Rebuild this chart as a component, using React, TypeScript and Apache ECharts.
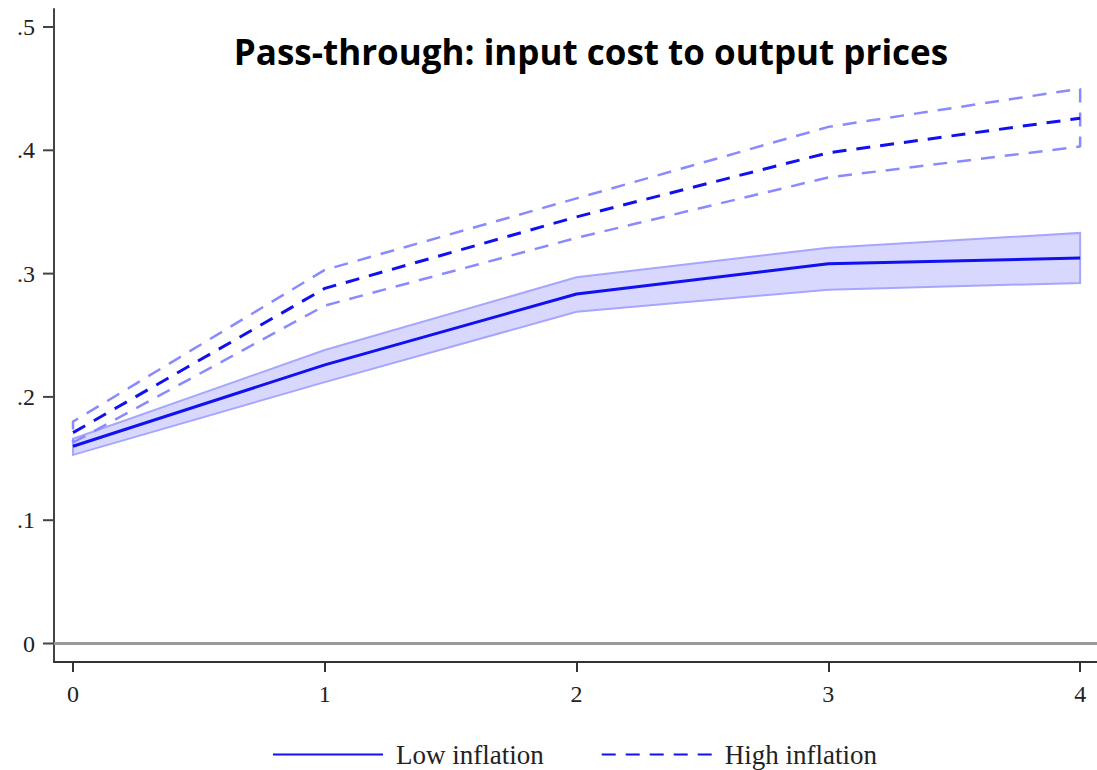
import React, { useEffect, useRef } from "react";
import * as echarts from "echarts";

const horizons = [0, 1, 2, 3, 4];
const lowInflation = [0.16, 0.226, 0.2835, 0.308, 0.3126];
const lowUpper = [0.166, 0.238, 0.297, 0.321, 0.333];
const lowLower = [0.153, 0.212, 0.269, 0.287, 0.2924];
const highInflation = [0.171, 0.288, 0.346, 0.398, 0.426];
const highUpper = [0.18, 0.303, 0.361, 0.419, 0.45];
const highLower = [0.163, 0.274, 0.329, 0.378, 0.403];
const yTicks = [0, 0.1, 0.2, 0.3, 0.4, 0.5];
const xTicks = [0, 1, 2, 3, 4];

const X_MIN = -0.0755;

const pairs = (ys: number[]) => horizons.map((x, i) => [x, ys[i]]);
const polygon = (lo: number[], hi: number[]) => {
  const pts: number[][] = [];
  horizons.forEach((x, i) => pts.push([x, lo[i]]));
  for (let i = horizons.length - 1; i >= 0; i--) pts.push([horizons[i], hi[i]]);
  pts.push([horizons[0], lo[0]]);
  return pts;
};

export default function App() {
  const ref = useRef<HTMLDivElement>(null);
  useEffect(() => {
    if (!ref.current) return;
    const chart = echarts.init(ref.current, null, { renderer: "svg" });
    const serif = "'Liberation Serif', 'DejaVu Serif', serif";
    const lowPoly = polygon(lowLower, lowUpper);
    chart.setOption({
      animation: false,
      backgroundColor: "#ffffff",
      title: {
        text: "Pass-through: input cost to output prices",
        left: 586,
        top: 29,
        textAlign: "center",
        textStyle: { fontFamily: "'Open Sans', sans-serif", fontWeight: "bold", fontSize: 35, color: "#000" },
      },
      grid: { left: 54, right: 0, top: 9, bottom: 108, containLabel: false },
      legend: {
        data: ["Low inflation", "High inflation"],
        top: 736,
        left: 267,
        itemWidth: 110,
        itemHeight: 14,
        itemGap: 57,
        itemStyle: { opacity: 0 },
        textStyle: { fontFamily: serif, fontSize: 27, color: "#222", padding: [0, 0, 0, 8] },
      },
      xAxis: {
        type: "value",
        min: X_MIN,
        max: 4.067,
        splitLine: { show: false },
        axisLine: { show: true, onZero: false, lineStyle: { color: "#333", width: 2 } },
        axisTick: { show: true, inside: false, customValues: xTicks, length: 10, lineStyle: { color: "#333", width: 2 } },
        axisLabel: { customValues: xTicks, fontFamily: serif, fontSize: 24, color: "#222", margin: 20 },
      },
      yAxis: {
        type: "value",
        min: -0.015,
        max: 0.5146,
        splitLine: { show: false },
        axisLine: { show: true, onZero: false, lineStyle: { color: "#444", width: 2 } },
        axisTick: { show: false },
        axisLabel: {
          customValues: yTicks,
          fontFamily: serif,
          fontSize: 24,
          color: "#222",
          margin: 19,
          formatter: (v: number) => (Math.abs(v) < 1e-9 ? "0" : "." + Math.round(v * 10)),
        },
      },
      series: [
        {
          name: "lowBand",
          type: "custom",
          silent: true,
          data: [0],
          renderItem: (_params: any, api: any) => ({
            type: "polygon",
            shape: { points: lowPoly.map((p) => api.coord(p)) },
            style: { fill: "rgba(60,60,255,0.2)", stroke: "#a6a6ff", lineWidth: 2 },
          }),
          z: 1,
        },
        {
          name: "zeroLine",
          type: "line",
          data: [],
          silent: true,
          markLine: {
            silent: true,
            symbol: "none",
            label: { show: false },
            lineStyle: { color: "#9a9a9a", width: 3, type: "solid" },
            data: [{ yAxis: 0 }],
          },
        },
        {
          name: "highBandEdge",
          type: "line",
          data: polygon(highLower, highUpper),
          symbol: "none",
          lineStyle: { color: "#8a8aff", width: 2.5, type: [14, 10] },
          silent: true,
        },
        {
          name: "Low inflation",
          type: "line",
          data: pairs(lowInflation),
          symbol: "none",
          itemStyle: { color: "#1010f0" },
          lineStyle: { color: "#1010f0", width: 3 },
          z: 5,
        },
        {
          name: "High inflation",
          type: "line",
          data: pairs(highInflation),
          symbol: "none",
          itemStyle: { color: "#1010f0" },
          lineStyle: { color: "#1010f0", width: 3, type: [14, 10] },
          z: 5,
        },
      ],
    });
    const tickLines = yTicks.map((v) => {
      const p = chart.convertToPixel({ gridIndex: 0 }, [X_MIN, v]) as number[];
      return {
        type: "line",
        silent: true,
        z: 10,
        shape: { x1: p[0] - 11, y1: p[1], x2: p[0], y2: p[1] },
        style: { stroke: "#444", lineWidth: 2 },
      };
    });
    chart.setOption({ graphic: tickLines });
    return () => chart.dispose();
  }, []);
  return (
    <div
      ref={ref}
      style={{ position: "fixed", left: 0, top: 0, width: 1097, height: 770 }}
    />
  );
}
